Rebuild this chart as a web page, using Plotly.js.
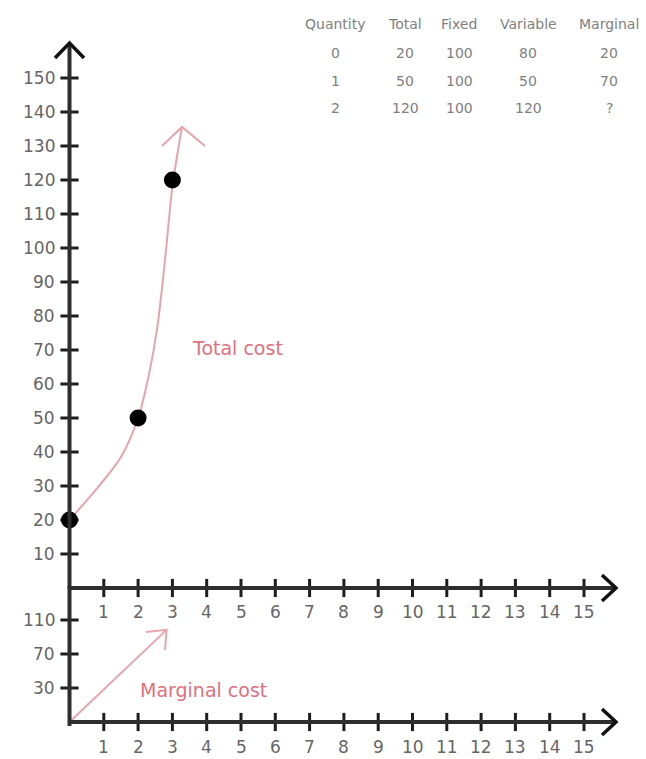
<!DOCTYPE html>
<html><head><meta charset="utf-8">
<script src="https://cdn.plot.ly/plotly-3.0.1.min.js"></script>
<style>html,body{margin:0;padding:0;background:#fff}</style>
</head><body><div id="chart" style="width:646px;height:759px"></div>
<script>
// ---------- data ----------
const xTickValues = [1,2,3,4,5,6,7,8,9,10,11,12,13,14,15];
const costTickValues = [10,20,30,40,50,60,70,80,90,100,110,120,130,140,150];
const marginalTickPositions = [1,2,3];
const marginalTickLabels = ['30','70','110'];
const pointQuantity = [0,2,3];
const pointTotalCost = [20,50,120];
const curveQuantity = [0,0.9,1.5,2,2.3,2.55,2.8,3,3.28];
const curveTotalCost = [20,30.5,38.5,50,62,76,98,118,135.6];
const marginalArrowX = [0,2.83];
const marginalArrowY = [0,2.71];
const tableHeaders = ['Quantity','Total','Fixed','Variable','Marginal'];
const tableQuantity = ['0','1','2'];
const tableTotal = ['20','50','120'];
const tableFixed = ['100','100','100'];
const tableVariable = ['80','50','120'];
const tableMarginal = ['20','70','?'];

// ---------- geometry (pixel scale) ----------
const W = 646, H = 759;
const X0PX = 69.5, XPX = 34.3;          // x=0 pixel, px per unit
const Y0PX = 588, YPX = 3.4;            // top chart: cost=0 pixel, px per unit
const Y20PX = 722, Y2PX = 34;           // bottom chart
const xRange = [-X0PX/XPX, (W-X0PX)/XPX];
const yRange = [(Y0PX-H)/YPX, Y0PX/YPX];
const y2Range = [(Y20PX-H)/Y2PX, Y20PX/Y2PX];
const px2x = p => (p-X0PX)/XPX;
const py2y = p => (Y0PX-p)/YPX;
const py2y2 = p => (Y20PX-p)/Y2PX;

const AX = '#2e2e2e', TICK = '#1e1e1e', LBL = '#666666', PINK_LINE = '#eaa3ad', PINK_TXT = '#e0707e';
const FONT = 'DejaVu Sans';

const traces = [
  {x: curveQuantity, y: curveTotalCost, mode:'lines', line:{color:PINK_LINE, width:2, shape:'spline', smoothing:1}, hoverinfo:'skip'},
  {x: marginalArrowX, y: marginalArrowY, yaxis:'y2', mode:'lines', line:{color:PINK_LINE, width:2}, hoverinfo:'skip'},
  {x: xTickValues, y: xTickValues.map(()=>0), mode:'markers', cliponaxis:false,
   marker:{symbol:'line-ns', size:13, line:{color:TICK, width:3}}, hoverinfo:'skip'},
  {x: costTickValues.map(()=>0), y: costTickValues, mode:'markers', cliponaxis:false,
   marker:{symbol:'line-ew', size:13, line:{color:TICK, width:3}}, hoverinfo:'skip'},
  {x: xTickValues, y: xTickValues.map(()=>0), yaxis:'y2', mode:'markers', cliponaxis:false,
   marker:{symbol:'line-ns', size:13, line:{color:TICK, width:3}}, hoverinfo:'skip'},
  {x: marginalTickPositions.map(()=>0), y: marginalTickPositions, yaxis:'y2', mode:'markers', cliponaxis:false,
   marker:{symbol:'line-ew', size:13, line:{color:TICK, width:3}}, hoverinfo:'skip'},
  {x: pointQuantity, y: pointTotalCost, mode:'markers', cliponaxis:false,
   marker:{color:'#000', size:17}, hoverinfo:'skip'}
];

const shapes = [];
const lineShape = (x0,y0,x1,y1,yref,color,width) => ({type:'line', xref:'x', yref:yref, x0,y0,x1,y1, line:{color, width}});
const pathShape = (pts,yref,color,width) => ({type:'path', xref:'x', yref:yref,
  path: 'M ' + pts.map(p=>p[0]+','+p[1]).join(' L '), line:{color, width}});

shapes.push(lineShape(0, 0, 0, py2y(43), 'y', AX, 4));
shapes.push(lineShape(0, py2y2(726), 0, py2y2(586), 'y2', AX, 4));
shapes.push(lineShape(0, 0, px2x(615), 0, 'y', AX, 4));
shapes.push(lineShape(0, 0, px2x(615), 0, 'y2', AX, 4));
shapes.push(pathShape([[px2x(55),py2y(58)],[0,py2y(43)],[px2x(84),py2y(58)]], 'y', '#111', 3.5));
shapes.push(pathShape([[px2x(602),py2y(575)],[px2x(616),0],[px2x(602),py2y(601)]], 'y', '#111', 3.5));
shapes.push(pathShape([[px2x(602),py2y2(709)],[px2x(616),0],[px2x(602),py2y2(735)]], 'y2', '#111', 3.5));
const tipX = curveQuantity[curveQuantity.length-1], tipY = curveTotalCost[curveTotalCost.length-1];
shapes.push(pathShape([[px2x(162),py2y(146)],[tipX,tipY],[px2x(205),py2y(146)]], 'y', PINK_LINE, 2));
shapes.push(pathShape([[px2x(146),py2y2(632)],[marginalArrowX[1],marginalArrowY[1]],[px2x(165),py2y2(650)]], 'y2', PINK_LINE, 2));

const annotations = [];
const tfont = {family:FONT, size:17, color:LBL};
xTickValues.forEach(v => {
  annotations.push({x:v, y:0, xref:'x', yref:'y', yshift:-24, text:String(v), showarrow:false, font:tfont});
  annotations.push({x:v, y:0, xref:'x', yref:'y2', yshift:-25, text:String(v), showarrow:false, font:tfont});
});
costTickValues.forEach(v => {
  annotations.push({x:0, y:v, xref:'x', yref:'y', xanchor:'right', xshift:-13, text:String(v), showarrow:false, font:tfont});
});
marginalTickPositions.forEach((v,i) => {
  annotations.push({x:0, y:v, xref:'x', yref:'y2', xanchor:'right', xshift:-13, text:marginalTickLabels[i], showarrow:false, font:tfont});
});
annotations.push({x:px2x(237), y:py2y(348), xref:'x', yref:'y', text:'Total cost', showarrow:false, font:{family:FONT, size:19, color:PINK_TXT}});
annotations.push({x:px2x(203), y:py2y2(690), xref:'x', yref:'y2', text:'Marginal cost', showarrow:false, font:{family:FONT, size:19, color:PINK_TXT}});

const colX = [335, 405, 459, 528, 609];
const rowY = [24, 53, 81, 108];
const cols = [tableQuantity, tableTotal, tableFixed, tableVariable, tableMarginal];
const tabFont = {family:FONT, size:14, color:'#808080'};
tableHeaders.forEach((h,c) => {
  annotations.push({xref:'paper', yref:'paper', x:colX[c]/W, y:1-rowY[0]/H, xanchor:'center', yanchor:'middle', text:h, showarrow:false, font:tabFont});
  cols[c].forEach((v,r) => {
    annotations.push({xref:'paper', yref:'paper', x:colX[c]/W, y:1-rowY[r+1]/H, xanchor:'center', yanchor:'middle', text:v, showarrow:false, font:tabFont});
  });
});

const layout = {
  width: W, height: H,
  margin:{l:0, r:0, t:0, b:0, pad:0},
  paper_bgcolor:'#fff', plot_bgcolor:'#fff',
  showlegend:false,
  xaxis:{range:xRange, visible:false, fixedrange:true},
  yaxis:{range:yRange, visible:false, fixedrange:true},
  yaxis2:{range:y2Range, visible:false, overlaying:'y', fixedrange:true},
  shapes, annotations
};
Plotly.newPlot('chart', traces, layout, {staticPlot:true, displayModeBar:false});
</script>
</body></html>
